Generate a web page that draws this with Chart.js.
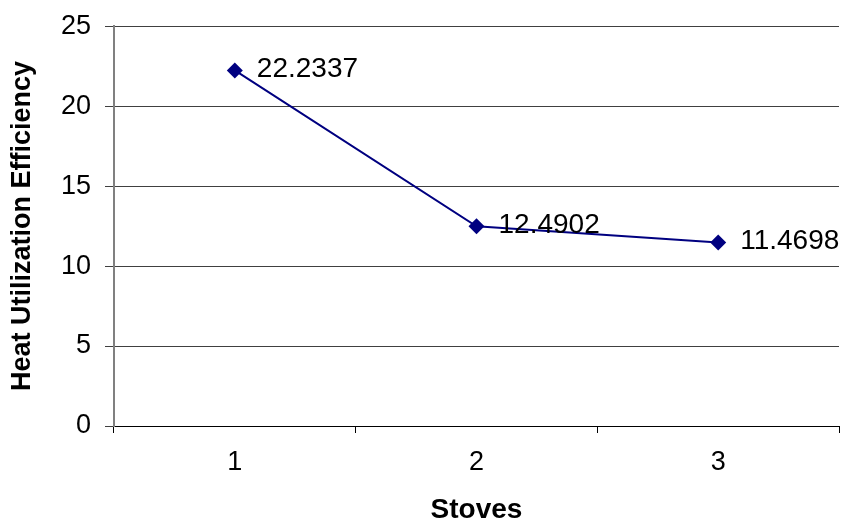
<!DOCTYPE html>
<html>
<head>
<meta charset="utf-8">
<script src="https://cdn.jsdelivr.net/npm/chart.js@4/dist/chart.umd.min.js"></script>
<style>
  body { margin: 0; background: #fff; }
  #divChartStoves { width: 850px; height: 521px; }
</style>
</head>
<body>
<div id="divChartStoves"><canvas id="chartStoves"></canvas></div>
<script>
// data
var stoves = ['1', '2', '3'];
var efficiency = [22.2337, 12.4902, 11.4698];
var yMin = 0, yMax = 25, yStep = 5;

var fontFamily = "'Liberation Sans', Arial, sans-serif";

// write the value to the right of every point
var pointLabels = {
    id: 'pointLabels',
    afterDatasetsDraw: function(chart) {
        var ctx = chart.ctx;
        var meta = chart.getDatasetMeta(0);
        ctx.save();
        ctx.font = '28px ' + fontFamily;
        ctx.fillStyle = '#000';
        ctx.textAlign = 'left';
        ctx.textBaseline = 'middle';
        meta.data.forEach(function(pt, i) {
            ctx.fillText(String(efficiency[i]), pt.x + 22, pt.y - 1);
        });
        ctx.restore();
    }
};

var ctx = document.getElementById('chartStoves');
var chartStoves = new Chart(ctx, {
    type: 'line',
    data: {
        labels: stoves,
        datasets: [{
            label: 'Heat Utilization Efficiency',
            data: efficiency,
            borderColor: '#000080',
            borderWidth: 2,
            tension: 0,
            fill: false,
            pointStyle: 'rectRot',
            pointRadius: 8,
            pointBackgroundColor: '#000080',
            pointBorderColor: '#000080',
            pointBorderWidth: 0
        }]
    },
    options: {
        responsive: true,
        maintainAspectRatio: false,
        animation: false,
        layout: {
            padding: { top: 26, right: 11, bottom: 0, left: 0 }
        },
        plugins: {
            legend: { display: false },
            tooltip: { enabled: false }
        },
        scales: {
            x: {
                type: 'category',
                offset: true,
                afterFit: function(s) { s.height = 95; },
                grid: {
                    offset: true,
                    drawOnChartArea: false,
                    drawTicks: true,
                    tickLength: 7,
                    color: '#000'
                },
                border: { display: true, color: '#000', width: 1 },
                ticks: {
                    color: '#000',
                    padding: 13,
                    font: { family: fontFamily, size: 27 }
                },
                title: {
                    display: true,
                    text: 'Stoves',
                    color: '#000',
                    padding: 0,
                    font: { family: fontFamily, size: 28, weight: 'bold', lineHeight: 0.8 }
                }
            },
            y: {
                min: yMin,
                max: yMax,
                afterFit: function(s) { s.width = 114; },
                grid: {
                    color: '#404040',
                    tickColor: '#404040',
                    tickLength: 9
                },
                border: { display: true, color: '#808080', width: 2 },
                ticks: {
                    stepSize: yStep,
                    color: '#000',
                    padding: 14,
                    font: { family: fontFamily, size: 27, lineHeight: 0.9 }
                },
                title: {
                    display: true,
                    text: 'Heat Utilization Efficiency',
                    color: '#000',
                    padding: { top: 6, bottom: 0 },
                    font: { family: fontFamily, size: 27, weight: 'bold' }
                }
            }
        }
    },
    plugins: [pointLabels]
});
</script>
</body>
</html>
